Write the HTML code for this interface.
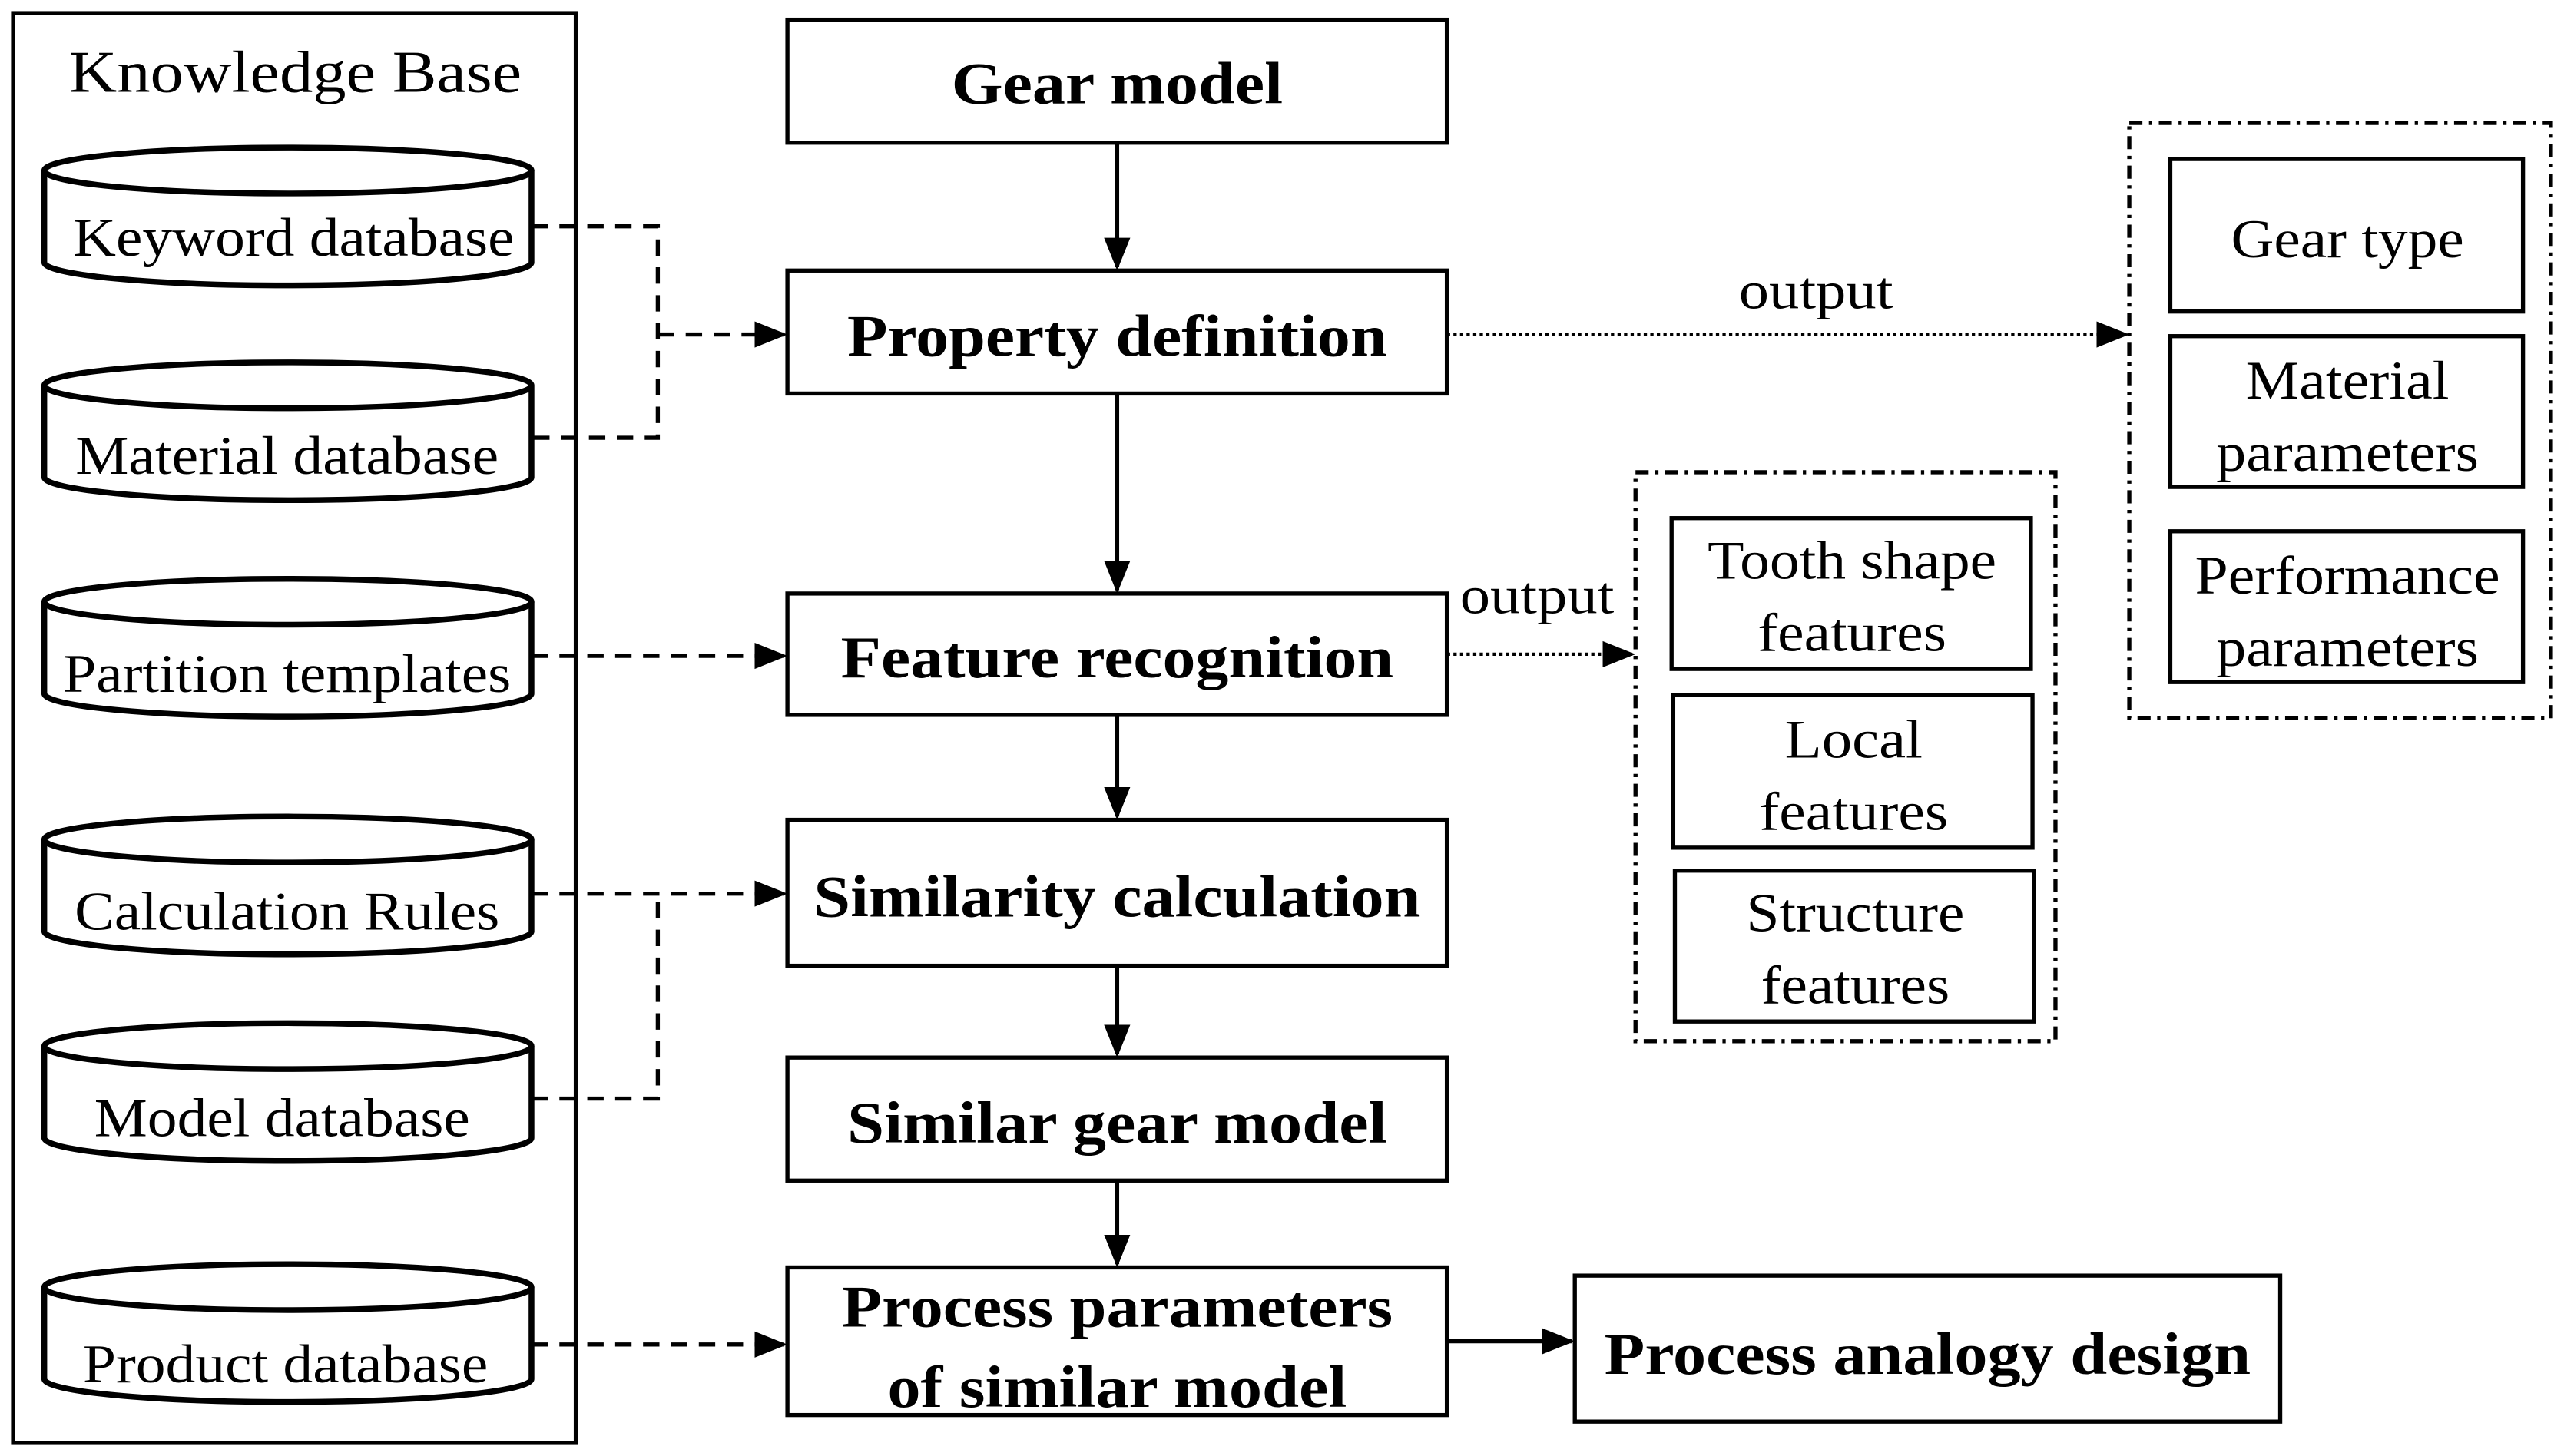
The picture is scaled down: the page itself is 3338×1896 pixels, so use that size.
<!DOCTYPE html>
<html><head><meta charset="utf-8"><style>html,body{margin:0;padding:0;background:#fff}svg{display:block}</style></head>
<body>
<svg width="3338" height="1896" viewBox="0 0 1563 888" preserveAspectRatio="none" xmlns="http://www.w3.org/2000/svg" font-family="Liberation Serif, serif">
<defs>
<marker id="a" viewBox="0 0 10 10" refX="9" refY="5" markerWidth="10" markerHeight="10" markerUnits="userSpaceOnUse" orient="auto"><path d="M0,0 L10,5 L0,10z" fill="#000"/></marker>
<marker id="b" viewBox="0 0 10 10" refX="9" refY="5" markerWidth="20" markerHeight="20" markerUnits="userSpaceOnUse" orient="auto"><path d="M0,1 L10,5 L0,9z" fill="#000"/></marker>
</defs>
<rect x="8" y="8" width="343" height="872" fill="none" stroke="#000" stroke-width="2.5"/>
<text x="180" y="56" font-size="36" text-anchor="middle" textLength="276" lengthAdjust="spacingAndGlyphs">Knowledge Base</text>
<g fill="#fff" stroke="#000" stroke-width="3.5">
<path d="M27,104 v56 a148,14 0 0 0 297,0 v-56"/><ellipse cx="175.5" cy="104" rx="148.5" ry="14"/>
<path d="M27,235 v56 a148,14 0 0 0 297,0 v-56"/><ellipse cx="175.5" cy="235" rx="148.5" ry="14"/>
<path d="M27,367 v56 a148,14 0 0 0 297,0 v-56"/><ellipse cx="175.5" cy="367" rx="148.5" ry="14"/>
<path d="M27,512 v56 a148,14 0 0 0 297,0 v-56"/><ellipse cx="175.5" cy="512" rx="148.5" ry="14"/>
<path d="M27,638 v56 a148,14 0 0 0 297,0 v-56"/><ellipse cx="175.5" cy="638" rx="148.5" ry="14"/>
<path d="M27,785 v56 a148,14 0 0 0 297,0 v-56"/><ellipse cx="175.5" cy="785" rx="148.5" ry="14"/>
</g>
<g font-size="33" text-anchor="middle" lengthAdjust="spacingAndGlyphs">
<text x="179" y="156" textLength="269" lengthAdjust="spacingAndGlyphs">Keyword database</text>
<text x="175" y="289" textLength="258" lengthAdjust="spacingAndGlyphs">Material database</text>
<text x="175" y="422" textLength="273" lengthAdjust="spacingAndGlyphs">Partition templates</text>
<text x="175" y="567" textLength="259" lengthAdjust="spacingAndGlyphs">Calculation Rules</text>
<text x="172" y="693" textLength="229" lengthAdjust="spacingAndGlyphs">Model database</text>
<text x="174" y="843" textLength="247" lengthAdjust="spacingAndGlyphs">Product database</text>
</g>
<g fill="none" stroke="#000" stroke-width="2.5" stroke-dasharray="10,7">
<path d="M324,138 H401 V267 H324"/>
<path d="M401,204 H478" marker-end="url(#b)"/>
<path d="M324,400 H478" marker-end="url(#b)"/>
<path d="M324,670 H401 V545"/>
<path d="M324,545 H478" marker-end="url(#b)"/>
<path d="M324,820 H478" marker-end="url(#b)"/>
</g>
<g fill="#fff" stroke="#000" stroke-width="2.5">
<rect x="480" y="12" width="402" height="75"/>
<rect x="480" y="165" width="402" height="75"/>
<rect x="480" y="362" width="402" height="74"/>
<rect x="480" y="500" width="402" height="89"/>
<rect x="480" y="645" width="402" height="75"/>
<rect x="480" y="773" width="402" height="90"/>
<rect x="960" y="778" width="430" height="89"/>
</g>
<g font-size="36" font-weight="bold" text-anchor="middle">
<text x="681" y="63" textLength="202" lengthAdjust="spacingAndGlyphs">Gear model</text>
<text x="681" y="217" textLength="329" lengthAdjust="spacingAndGlyphs">Property definition</text>
<text x="681" y="413" textLength="337" lengthAdjust="spacingAndGlyphs">Feature recognition</text>
<text x="681" y="559" textLength="370" lengthAdjust="spacingAndGlyphs">Similarity calculation</text>
<text x="681" y="697" textLength="329" lengthAdjust="spacingAndGlyphs">Similar gear model</text>
<text x="681" y="809" textLength="336" lengthAdjust="spacingAndGlyphs">Process parameters</text>
<text x="681" y="858" textLength="280" lengthAdjust="spacingAndGlyphs">of similar model</text>
<text x="1175" y="838" textLength="394" lengthAdjust="spacingAndGlyphs">Process analogy design</text>
</g>
<g stroke="#000" stroke-width="2.5" fill="none">
<path d="M681,87 V163" marker-end="url(#b)"/>
<path d="M681,240 V360" marker-end="url(#b)"/>
<path d="M681,436 V498" marker-end="url(#b)"/>
<path d="M681,589 V643" marker-end="url(#b)"/>
<path d="M681,720 V771" marker-end="url(#b)"/>
<path d="M882,818 H958" marker-end="url(#b)"/>
</g>
<g stroke="#000" stroke-width="2" fill="none" stroke-dasharray="2,2">
<path d="M882,204 H1296" marker-end="url(#b)"/>
<path d="M882,399 H995" marker-end="url(#b)"/>
</g>
<text x="1107" y="188" font-size="32" text-anchor="middle" textLength="94" lengthAdjust="spacingAndGlyphs">output</text>
<text x="937" y="374" font-size="32" text-anchor="middle" textLength="94" lengthAdjust="spacingAndGlyphs">output</text>
<g fill="none" stroke="#000" stroke-width="2.5" stroke-dasharray="8,4,2,4">
<rect x="1298" y="75" width="257" height="363"/>
<rect x="997" y="288" width="256" height="347"/>
</g>
<g fill="#fff" stroke="#000" stroke-width="2.5">
<rect x="1323" y="97" width="215" height="93"/>
<rect x="1323" y="205" width="215" height="92"/>
<rect x="1323" y="324" width="215" height="92"/>
<rect x="1019" y="316" width="219" height="92"/>
<rect x="1020" y="424" width="219" height="93"/>
<rect x="1021" y="531" width="219" height="92"/>
</g>
<g font-size="33" text-anchor="middle">
<text x="1431" y="157" textLength="142" lengthAdjust="spacingAndGlyphs">Gear type</text>
<text x="1431" y="243" textLength="124" lengthAdjust="spacingAndGlyphs">Material</text>
<text x="1431" y="287" textLength="160" lengthAdjust="spacingAndGlyphs">parameters</text>
<text x="1431" y="362" textLength="186" lengthAdjust="spacingAndGlyphs">Performance</text>
<text x="1431" y="406" textLength="160" lengthAdjust="spacingAndGlyphs">parameters</text>
<text x="1129" y="353" textLength="176" lengthAdjust="spacingAndGlyphs">Tooth shape</text>
<text x="1129" y="397" textLength="115" lengthAdjust="spacingAndGlyphs">features</text>
<text x="1130" y="462" textLength="84" lengthAdjust="spacingAndGlyphs">Local</text>
<text x="1130" y="506" textLength="115" lengthAdjust="spacingAndGlyphs">features</text>
<text x="1131" y="568" textLength="133" lengthAdjust="spacingAndGlyphs">Structure</text>
<text x="1131" y="612" textLength="115" lengthAdjust="spacingAndGlyphs">features</text>
</g>
</svg>
</body></html>
